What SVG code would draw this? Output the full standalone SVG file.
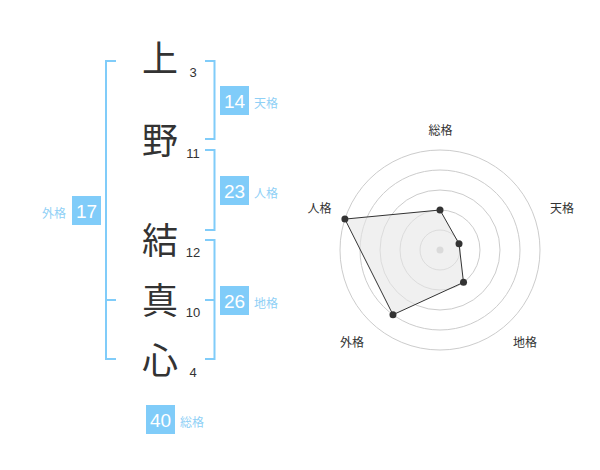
<svg xmlns="http://www.w3.org/2000/svg" width="600" height="470" viewBox="0 0 600 470">
<style>
.ch{font-family:"Noto Sans CJK JP","Noto Sans CJK SC",sans-serif;font-size:36px;fill:#333;text-anchor:middle}
.num{font-family:"Liberation Sans",Arial,sans-serif;font-size:13px;fill:#333;text-anchor:middle}
.br{fill:none;stroke:#80ccf9;stroke-width:2}
.box{fill:#80ccf9}
.bv{font-family:"Liberation Sans",Arial,sans-serif;font-size:19px;fill:#fff;text-anchor:middle}
.bl{font-family:"Noto Sans CJK JP","Noto Sans CJK SC",sans-serif;font-size:12px;fill:#8fd0f6}
.rl{font-family:"Noto Sans CJK JP","Noto Sans CJK SC",sans-serif;font-size:12px;fill:#333;text-anchor:middle}
.ring{fill:none;stroke:#cccccc;stroke-width:1}
.pt{fill:#333}
</style>
<rect width="600" height="470" fill="#fff"/>
<g id="chars">
<g id="c1"><text class="ch" x="160" y="72">上</text><text class="num" x="193" y="77">3</text></g>
<g id="c2"><text class="ch" x="160" y="154">野</text><text class="num" x="193" y="158">11</text></g>
<g id="c3"><text class="ch" x="160" y="254">結</text><text class="num" x="193" y="257">12</text></g>
<g id="c4"><text class="ch" x="160" y="314">真</text><text class="num" x="193" y="317">10</text></g>
<g id="c5"><text class="ch" x="160" y="374">心</text><text class="num" x="193" y="377">4</text></g>
</g>
<g id="connectors">
<path class="br" d="M116,61 H106 V359 H116 M106,300 H116"/>
<path class="br" d="M205,61 H214.5 V139 H205"/>
<path class="br" d="M205,150 H214.5 V230 H205"/>
<path class="br" d="M205,240 H214.5 V359 H205 M205,300 H214.5"/>
</g>
<g id="tenkaku"><rect class="box" x="220" y="86" width="29" height="29"/><text class="bv" x="234.5" y="107.5">14</text><text class="bl" x="254" y="108">天格</text></g>
<g id="jinkaku"><rect class="box" x="220" y="176" width="29" height="29"/><text class="bv" x="234.5" y="197.5">23</text><text class="bl" x="254" y="198">人格</text></g>
<g id="chikaku"><rect class="box" x="220" y="286" width="29" height="29"/><text class="bv" x="234.5" y="307.5">26</text><text class="bl" x="254" y="308">地格</text></g>
<g id="gaikaku"><rect class="box" x="72" y="196" width="29" height="29"/><text class="bv" x="86.5" y="217.5">17</text><text class="bl" x="66" y="218" text-anchor="end">外格</text></g>
<g id="soukaku"><rect class="box" x="146" y="405" width="29" height="29"/><text class="bv" x="160.5" y="426.5">40</text><text class="bl" x="180" y="427">総格</text></g>
<g id="radar">
<circle class="ring" cx="440" cy="250" r="20"/>
<circle class="ring" cx="440" cy="250" r="40"/>
<circle class="ring" cx="440" cy="250" r="60"/>
<circle class="ring" cx="440" cy="250" r="80"/>
<circle class="ring" cx="440" cy="250" r="100"/>
<circle cx="440" cy="250" r="3.5" fill="#c8c8c8"/>
<polygon points="440,210 459.02,243.82 463.51,282.36 392.98,314.72 344.89,219.1" fill="#e6e6e6" fill-opacity="0.6" stroke="#333" stroke-width="1"/>
<circle class="pt" cx="440" cy="210" r="3.5"/>
<circle class="pt" cx="459.02" cy="243.82" r="3.5"/>
<circle class="pt" cx="463.51" cy="282.36" r="3.5"/>
<circle class="pt" cx="392.98" cy="314.72" r="3.5"/>
<circle class="pt" cx="344.89" cy="219.1" r="3.5"/>
<text class="rl" x="440.5" y="135">総格</text>
<text class="rl" x="562" y="213">天格</text>
<text class="rl" x="525" y="347">地格</text>
<text class="rl" x="352" y="347">外格</text>
<text class="rl" x="319.5" y="213">人格</text>
</g>
</svg>
